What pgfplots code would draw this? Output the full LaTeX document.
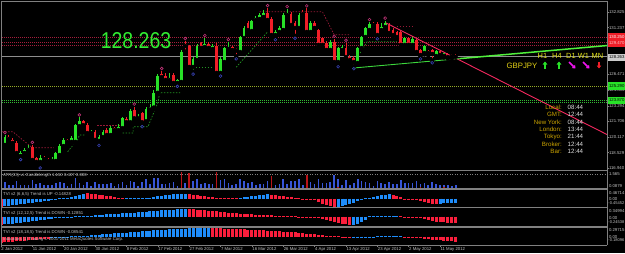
\documentclass[border=0pt]{standalone}
\usepackage{pgfplots}
\pgfplotsset{compat=1.18}
\usepackage{pgfplotstable}
\usetikzlibrary{arrows.meta}
\usepackage{fontspec}
\setmainfont{Liberation Sans}
\definecolor{cup}{RGB}{40,225,40}
\definecolor{cdn}{RGB}{240,30,40}
\definecolor{tvib}{RGB}{30,140,250}
\definecolor{tvir}{RGB}{250,30,60}
\definecolor{atrb}{RGB}{55,85,215}
\definecolor{atrr}{RGB}{185,20,25}
\definecolor{sep}{RGB}{128,128,128}
\definecolor{lbl}{RGB}{195,195,195}
\definecolor{frup}{RGB}{185,50,115}
\definecolor{frdn}{RGB}{55,65,180}
\definecolor{rdot}{RGB}{165,30,60}
\definecolor{gdot}{RGB}{50,185,50}
\definecolor{ydot}{RGB}{150,170,40}
\definecolor{rdash}{RGB}{150,25,55}
\definecolor{gdash}{RGB}{35,150,35}
\definecolor{gold}{RGB}{205,165,0}
\definecolor{yel}{RGB}{225,225,25}
\definecolor{lime}{RGB}{50,235,50}
\definecolor{tline}{RGB}{245,40,95}
\definecolor{gline}{RGB}{60,215,60}
\definecolor{gline2}{RGB}{80,240,60}
\definecolor{mag}{RGB}{240,20,240}

\pgfplotstableread{
x o h l c
0 120.0 120.5 119.8 120.3
1 119.29 120.3 119.1 120.1
5 118.17 118.7 118.05 118.47
6 118.47 119.0 118.3 118.78
7 118.78 119.3 118.6 119.0
10 117.56 118.3 117.2 117.96
13 117.66 118.1 117.5 117.86
14 117.66 118.6 117.5 118.47
15 118.27 119.4 118.1 119.18
16 119.18 120.0 119.0 119.8
18 119.6 120.2 119.4 120.0
19 119.6 121.4 119.4 121.3
20 121.2 122.1 121.0 121.7
23 120.5 120.8 120.3 120.6
25 119.7 120.3 119.5 120.1
26 120.1 120.8 119.9 120.6
28 120.3 121.2 120.1 121.0
30 120.8 121.4 120.6 121.1
31 121.0 122.1 120.9 122.0
33 121.6 122.9 121.5 122.7
35 122.0 122.4 121.9 122.1
37 121.7 123.2 121.5 123.0
38 122.9 123.5 122.7 123.2
39 123.1 124.9 122.9 124.6
40 124.6 126.5 124.5 126.3
43 125.9 126.62 125.6 126.11
45 125.6 126.05 125.5 125.9
46 125.7 128.96 125.55 128.75
49 127.23 128.24 126.75 128.04
50 127.94 129.57 127.8 129.36
52 129.26 130.18 129.1 129.57
54 129.06 129.57 128.8 129.36
56 126.62 128.2 126.55 128.04
57 127.73 129.3 127.6 129.16
58 129.06 129.77 128.8 129.2
61 128.75 130.4 128.6 130.28
62 130.18 131.4 130.0 131.2
64 130.89 132.0 130.7 131.91
65 132.01 132.4 131.8 132.21
66 132.11 132.7 131.9 132.52
67 132.32 133.0 132.1 132.72
70 130.48 131.0 130.25 130.79
71 130.79 131.4 130.6 131.2
72 130.99 132.7 130.9 132.52
73 132.52 133.13 132.3 132.72
76 131.2 132.7 131.0 132.52
79 130.79 131.9 130.6 131.71
84 128.96 130.0 128.8 129.77
86 127.73 129.3 127.5 129.16
87 128.96 129.5 128.8 129.26
91 127.63 129.3 127.5 129.16
92 129.16 130.4 129.0 130.28
93 130.28 131.3 130.1 131.2
94 130.99 131.8 130.8 131.6
97 130.99 131.7 130.7 131.3
98 131.3 131.95 131.1 131.7
103 129.47 130.3 129.3 130.18
105 129.47 130.4 129.3 130.1
108 128.65 129.5 128.5 129.36
111 128.35 129.0 128.2 128.86
113 128.35 128.8 128.2 128.65
}\up

\pgfplotstableread{
x o h l c
2 120.1 120.3 119.7 119.9
3 119.8 120.0 119.3 119.5
4 119.5 119.7 118.3 118.47
8 119.08 119.3 117.65 117.76
9 117.96 118.1 117.3 117.56
11 117.96 118.2 117.6 117.86
12 117.86 118.0 117.3 117.66
17 119.8 119.9 119.4 119.6
21 121.7 121.8 121.1 121.3
22 121.3 121.5 120.3 120.5
24 120.6 120.8 119.6 119.8
27 120.8 121.0 120.1 120.3
29 121.0 121.1 120.6 120.8
32 121.9 122.1 121.4 121.6
34 122.8 123.2 121.9 122.0
36 122.5 122.6 121.4 121.6
41 126.5 126.82 126.0 126.2
42 126.3 126.6 125.75 125.9
44 126.41 126.62 125.45 125.6
47 129.57 129.87 128.8 129.36
48 129.36 129.47 127.12 127.23
51 129.67 129.77 129.0 129.16
53 129.57 129.77 128.9 129.16
55 129.36 129.67 126.5 126.62
59 129.26 129.4 128.7 128.96
60 129.0 129.2 128.3 128.9
63 131.71 131.9 130.8 130.99
68 132.72 133.23 131.9 132.01
69 132.11 132.3 130.3 130.48
74 132.62 132.8 131.3 131.5
75 131.71 131.9 130.4 131.2
77 132.83 133.0 132.4 132.62
78 132.72 133.2 130.6 130.79
80 131.71 131.9 131.0 131.2
81 130.99 131.1 129.3 129.47
82 130.18 130.3 129.2 129.47
83 129.67 129.9 128.8 128.96
85 129.77 130.1 127.6 127.73
88 129.16 129.7 128.1 128.24
89 128.24 128.4 127.8 127.94
90 128.1 128.3 127.3 127.73
95 131.6 131.8 131.3 131.5
96 131.6 131.8 130.35 130.48
99 131.5 131.7 130.5 130.69
100 130.99 131.2 130.3 130.48
101 130.79 130.9 130.1 130.28
102 130.79 130.9 129.3 129.47
104 130.18 130.3 129.2 129.47
106 130.0 130.1 128.6 128.75
107 128.96 129.1 128.3 128.45
109 128.86 129.0 128.4 128.65
110 129.0 129.1 127.9 128.55
112 128.86 129.0 128.3 128.45
114 128.55 128.7 128.1 128.24
115 128.45 128.6 128.1 128.3
116 128.35 128.5 127.8 128.263
}\dn

\pgfplotsset{
  panel/.style={scale only axis, width=605bp, xmin=0.255, xmax=154.59,
    axis line style={draw=none}, ticks=none, clip=true},
  wick/.style={forget plot, only marks, mark=none, error bars/.cd, y dir=plus, y explicit,
    error mark=none, error bar style={draw=#1, line width=0.8bp}},
  body/.style={forget plot, only marks, mark=none, error bars/.cd, y dir=plus, y explicit,
    error mark=none, error bar style={draw=#1, line width=2.8bp}},
}
\newcommand{\lblf}{\fontsize{4.3}{5}\selectfont}
\newcommand{\lblg}{\fontsize{4.05}{5}\selectfont}

\begin{document}
\begin{tikzpicture}[x=1bp,y=1bp]
\fill[black] (0,0) rectangle (625,253);

% ---------------- main price panel ----------------
\begin{axis}[panel, at={(2bp,83bp)}, anchor=south west, height=168bp,
  ymin=116.741, ymax=133.843]
\addplot[rdot, line width=0.7bp, dash pattern=on 1bp off 1bp] coordinates {(0.255,130.25) (154.59,130.25)};
\addplot[rdot, line width=0.7bp, dash pattern=on 1bp off 1bp] coordinates {(0.255,129.72) (154.59,129.72)};
\addplot[rdot, line width=0.7bp, dash pattern=on 1bp off 1bp] coordinates {(0.255,129.47) (154.59,129.47)};
\addplot[color=sep!90!white, line width=0.8bp] coordinates {(0.255,128.263) (154.59,128.263)};
\addplot[ydot, line width=0.8bp, dash pattern=on 1bp off 1bp] coordinates {(0.255,125.29) (154.59,125.29)};
\addplot[gdot, line width=0.8bp, dash pattern=on 1bp off 1bp] coordinates {(0.255,123.87) (154.59,123.87)};
\addplot[gdot, line width=0.8bp, dash pattern=on 1bp off 1bp] coordinates {(0.255,123.58) (154.59,123.58)};
\addplot[rdash, line width=0.7bp, dash pattern=on 1.5bp off 1.5bp] coordinates {(0.3,120.64) (3,120.64) (8,119.0) (13.5,119.0)};
\addplot[rdash, line width=0.7bp, dash pattern=on 1.5bp off 1.5bp] coordinates {(24.5,121.3) (31,121.3)};
\addplot[rdash, line width=0.7bp, dash pattern=on 1.5bp off 1.5bp] coordinates {(66,132.85) (82,132.85) (85,130.5) (89,130.5)};
\addplot[rdash, line width=0.7bp, dash pattern=on 1.5bp off 1.5bp] coordinates {(101,131.4) (105,131.4)};
\addplot[gdash, line width=0.7bp, dash pattern=on 1.5bp off 1.5bp] coordinates {(17,118.6) (19.5,119.8) (20,120.3) (22,120.3)};
\addplot[gdash, line width=0.7bp, dash pattern=on 1.5bp off 1.5bp] coordinates {(31,120.5) (33.7,120.5) (33.7,121.15) (37.5,121.15) (40,123.6) (40.5,124.6) (45.7,124.6)};
\addplot[gdash, line width=0.7bp, dash pattern=on 1.5bp off 1.5bp] coordinates {(47.4,127.23) (54,127.23)};
\addplot[gdash, line width=0.7bp, dash pattern=on 1.5bp off 1.5bp] coordinates {(60,127.2) (68,130.8)};
\addplot[gdash, line width=0.7bp, dash pattern=on 1.5bp off 1.5bp] coordinates {(91.6,128.65) (93.4,129.8) (101,129.8)};
\addplot[wick=cup] table[x=x, y=l, y error expr=\thisrow{h}-\thisrow{l}] {\up};
\addplot[wick=cdn] table[x=x, y=l, y error expr=\thisrow{h}-\thisrow{l}] {\dn};
\addplot[body=cup] table[x=x, y=o, y error expr=\thisrow{c}-\thisrow{o}] {\up};
\addplot[body=cdn] table[x=x, y=c, y error expr=\thisrow{o}-\thisrow{c}] {\dn};
\addplot[only marks, mark=o, mark size=1.4bp, draw=frup, line width=0.6bp] coordinates {
(1,120.55) (8,119.55) (20,122.35) (34,123.45) (41,127.07) (47,130.12) (52,130.43) (58,130.02)
(68,133.48) (73,133.38) (78,133.45) (85,130.35) (88,129.95) (94,132.05) (98,132.2)};
\addplot[only marks, mark=o, mark size=1.4bp, draw=frdn, line width=0.6bp] coordinates {
(5,117.8) (10,116.95) (25,119.25) (36,121.15) (45,125.25) (49,126.5) (56,126.3) (60,128.05)
(70,130.0) (75,130.15) (86,127.25) (90,127.05) (96,130.1) (107,128.05) (110,127.65)};
\addplot[tline, line width=0.9bp] coordinates {(98.2,131.71) (154.6,120.35)};
\addplot[gline, line width=0.9bp] coordinates {(89.8,127.12) (117,128.08)};
\addplot[gline2, line width=1.5bp] coordinates {(117,128.08) (154.6,129.41)};
\end{axis}

% ---------------- ATR panel ----------------
\begin{axis}[panel, at={(2bp,64.5bp)}, anchor=south west, height=16.5bp, ymin=0, ymax=3.1]
\addplot[sep, line width=0.5bp, dash pattern=on 1bp off 1.5bp] coordinates {(0.255,2.63) (154.59,2.63)};
\addplot[ycomb, draw=atrb, line width=1.6bp, mark=none] table[x=x, y expr=\thisrow{h}-\thisrow{l}] {\up};
\addplot[ycomb, draw=atrb, line width=1.6bp, mark=none] table[x=x, y expr=\thisrow{h}-\thisrow{l}] {\dn};
\addplot[ycomb, draw=atrr, line width=1.6bp, mark=none] coordinates {(46,3.41) (48,2.9) (55,3.17) (69,2.4) (78,2.6)};
\addplot[ycomb, draw=atrr, line width=1.6bp, mark=none] coordinates {(0,0.4) (86,0.3) (107,0.3) (113,0.25)};
\end{axis}

% ---------------- TVI 1 ----------------
\begin{axis}[panel, at={(2bp,46bp)}, anchor=south west, height=17bp, ymin=-8.5, ymax=8.5]
\addplot[ycomb, draw=tvib, line width=3bp, mark=none] coordinates {
(1,-7.5)(2,-7)(3,-6.5)(4,-6)(5,-5.5)(6,-5)(7,-4.6)(8,-4)(9,-3.5)(10,-3)(11,-2.5)(12,-2)(13,-1.2)(14,-0.6)
(15,0.5)(16,0.5)(17,0.7)(18,1.5)(19,2.5)(20,3.5)(21,4.5)(32,0.5)(33,0.5)(34,0.6)(35,0.6)(36,0.7)(37,0.8)
(38,1)(39,1.5)(40,2.5)(41,3)(42,3.5)(43,4)(44,4.3)(45,4.5)(46,4.6)(47,4.8)(61,0.6)(62,1.2)(63,2)(64,2.5)
(65,3)(66,3.5)(67,4)(68,4.2)(86,-8)(87,-7.5)(88,-6.5)(89,-5.5)(90,-4)(91,-2.5)(92,-1.2)(93,0.5)(94,0.8)
(95,1.5)(96,2.5)(97,3.5)(98,4)(99,4.5)(112,-5)(113,-4.6)(114,-4.4)(115,-4.4)(116,-4.3)};
\addplot[ycomb, draw=tvir, line width=3bp, mark=none] coordinates {
(0,-8)(22,5.5)(23,5)(24,4.5)(25,4)(26,3.5)(27,3)(28,2.3)(29,1.5)(30,0.8)(31,0.5)(48,4.5)(49,4)(50,3.5)
(51,3)(52,2.5)(53,2)(54,1.5)(55,1)(56,0.8)(57,0.6)(58,0.5)(59,0.5)(60,0.5)(69,4)(70,3.5)(71,3)(72,2.5)
(73,2)(74,1.3)(75,0.8)(76,0.5)(77,-0.5)(78,-0.7)(79,-1)(80,-1.5)(81,-3)(82,-5)(83,-6.5)(84,-7.5)(85,-8)
(100,3.5)(101,2.5)(102,1.5)(103,-0.5)(104,-0.6)(105,-0.8)(106,-1)(107,-2)(108,-3)(109,-4)(110,-5)(111,-5.5)};
\end{axis}

% ---------------- TVI 2 ----------------
\begin{axis}[panel, at={(2bp,27bp)}, anchor=south west, height=17.5bp, ymin=-9.3, ymax=8.2]
\addplot[ycomb, draw=tvib, line width=3bp, mark=none] coordinates {
(1,-7.5)(2,-7.2)(3,-6.9)(4,-6.5)(5,-6)(6,-5.5)(7,-5)(8,-4.5)(9,-4)(10,-3.5)(11,-3)(12,-2.5)(13,-2)(14,-1.6)
(15,-1.2)(16,-0.8)(17,-0.6)(18,-0.5)(19,0.5)(20,0.5)(21,0.7)(22,1)(23,1.2)(24,1.5)(25,1.8)(26,2)(27,2.3)
(28,2.6)(29,3)(30,3.2)(31,3.5)(32,3.8)(33,4)(34,4.2)(35,4.5)(36,4.8)(37,5)(38,5.3)(39,5.6)(40,6)(41,6.3)
(42,6.6)(43,6.9)(44,7.2)(45,7.5)(46,7.6)(47,7.7)(90,-8)(91,-7)(92,-5.5)(93,-3.5)(94,0.5)(95,0.6)(96,0.8)
(97,1)(98,1)(99,0.8)(100,0.6)(101,0.5)};
\addplot[ycomb, draw=tvir, line width=3bp, mark=none] coordinates {
(0,-8)(48,7.7)(49,7.5)(50,7.2)(51,6.9)(52,6.5)(53,6.2)(54,5.8)(55,5.4)(56,5)(57,4.6)(58,4.2)(59,3.8)(60,3.4)
(61,3.1)(62,2.8)(63,2.5)(64,2.3)(65,2.1)(66,1.9)(67,1.7)(68,1.5)(69,1.3)(70,1.1)(71,0.9)(72,0.8)(73,0.6)
(74,0.5)(75,0.5)(76,-0.5)(77,-0.5)(78,-0.6)(79,-0.8)(80,-1)(81,-1.5)(82,-2.2)(83,-3)(84,-4)(85,-5)(86,-6)
(87,-7)(88,-7.5)(89,-8)(102,0.5)(103,-0.5)(104,-0.5)(105,-0.6)(106,-0.8)(107,-1.5)(108,-2.5)(109,-3.5)
(110,-4.2)(111,-4.8)(112,-5.3)(113,-5.7)(114,-6)(115,-6.2)(116,-6.3)};
\end{axis}

% ---------------- TVI 3 ----------------
\begin{axis}[panel, at={(2bp,8.5bp)}, anchor=south west, height=16.5bp, ymin=-7.8, ymax=8.7]
\addplot[ycomb, draw=tvib, line width=3bp, mark=none] coordinates {
(13,-1.5)(14,-1.2)(15,-1)(16,-0.7)(17,-0.5)(18,0.5)(19,0.5)(20,0.6)(21,0.9)(22,1.2)(23,1.5)(24,1.8)(25,2.1)
(26,2.4)(27,2.7)(28,3)(29,3.3)(30,3.6)(31,3.9)(32,4.2)(33,4.5)(34,4.8)(35,5.1)(36,5.4)(37,5.7)(38,6)(39,6.3)
(40,6.6)(41,6.9)(42,7.2)(43,7.5)(44,7.7)(45,7.9)(46,8.1)(47,8.2)(48,8.3)(49,8.4)(50,8.5)(51,8.5)(52,8.5)
(53,8.5)(90,-1.2)(91,-1.4)(92,-1.4)(93,-1.2)(94,-1)(95,-0.6)(96,0.5)(97,0.5)(98,0.5)(99,0.5)(100,0.5)
(101,0.5)(102,0.5)};
\addplot[ycomb, draw=tvir, line width=3bp, mark=none] coordinates {
(0,-6)(1,-5.5)(2,-5)(3,-4.8)(4,-4.5)(5,-4.2)(6,-4)(7,-3.7)(8,-3.4)(9,-3)(10,-2.6)(11,-2.2)(12,-1.8)
(54,8.5)(55,8.4)(56,8.3)(57,8.2)(58,8.1)(59,8)(60,7.8)(61,7.6)(62,7.4)(63,7.2)(64,7)(65,6.8)(66,6.6)(67,6.4)
(68,6.2)(69,6)(70,5.8)(71,5.5)(72,5.2)(73,4.9)(74,4.6)(75,4.3)(76,4)(77,3.6)(78,3.2)(79,2.8)(80,2.4)(81,2)
(82,1.5)(83,1)(84,0.7)(85,0.5)(86,0.5)(87,-0.5)(88,-0.7)(89,-1)(103,-0.5)(104,-0.5)(105,-0.7)(106,-0.9)
(107,-1.3)(108,-1.8)(109,-2.3)(110,-2.8)(111,-3.2)(112,-3.6)(113,-4)(114,-4.3)(115,-4.6)(116,-4.8)};
\end{axis}

% ---------------- frames ----------------
\draw[sep, line width=0.8bp] (1,252) -- (607,252);
\draw[sep, line width=0.8bp] (1,252) -- (1,8);
\draw[sep, line width=0.8bp] (607,252) -- (607,8);
\foreach \yy in {82.5,64,45.5,26}{\draw[sep, line width=1.6bp] (1,\yy) -- (607,\yy);}
\draw[sep, line width=0.8bp] (1,8) -- (607,8);

\foreach \yy/\tx in {241/132.825,225.4/131.237,178.6/126.471,163/124.883,147.2/123.294,131.5/121.706,115.9/120.117,100.3/118.529,84.7/116.940}{
  \draw[sep, line width=0.5bp] (607,\yy) -- (608.5,\yy);
  \node[anchor=west, inner sep=0pt, text=lbl, font=\lblf] at (608.8,\yy) {\tx};}
\fill[cdn] (608,206) rectangle (625,220);
\node[anchor=west, inner sep=0pt, text=white, font=\lblf] at (608.8,216) {130.250};
\node[anchor=west, inner sep=0pt, text=white!80!red, font=\lblf] at (608.8,210) {129.470};
\fill[lbl!85!white] (608,192.5) rectangle (625,199.5);
\node[anchor=west, inner sep=0pt, text=black, font=\lblf] at (608.8,196) {128.263};
\fill[cup] (608,163) rectangle (625,171);
\node[anchor=west, inner sep=0pt, text=black, font=\lblf] at (608.8,167) {125.290};
\fill[cup] (608,149) rectangle (625,156.5);
\node[anchor=west, inner sep=0pt, text=black, font=\lblf] at (608.8,152.7) {123.870};

\foreach \yy/\tx in {78.5/1.565,66.5/0.0879,59.5/0.46714,53.7/0.00,41.5/0.34994,35/0.00,22.5/0.29715,15.8/0.00}{
  \node[anchor=west, inner sep=0pt, text=lbl, font=\lblf] at (608.8,\yy) {\tx};}
\foreach \yy/\tx in {49.7/-0.45452,31/-0.24538,12.5/-0.18096}{
  \node[anchor=west, inner sep=0pt, text=lbl, font=\lblg] at (608.2,\yy) {\tx};}

\node[anchor=west, inner sep=0pt, text=lbl, font=\lblf] at (3,77.5) {ATR(33) vs Candlelength 1.150 0.407 0.000};
\node[anchor=west, inner sep=0pt, text=lbl, font=\lblf] at (3,58.5) {TVI v2 (6,6,5) Trend is UP -0.14828};
\node[anchor=west, inner sep=0pt, text=lbl, font=\lblf] at (3,39.2) {TVI v2 (12,12,5) Trend is DOWN -0.12851};
\node[anchor=west, inner sep=0pt, text=lbl, font=\lblf] at (3,20.7) {TVI v2 (18,18,5) Trend is DOWN -0.08541};
\node[anchor=west, inner sep=0pt, text=lbl, font=\lblf] at (3,13.7) {Indicators [1] Trading \textcopyright\ 2001-2011 MetaQuotes Software Corp.};

\foreach \xx/\tx in {1/2 Jan 2012,32.4/11 Jan 2012,63.7/20 Jan 2012,95.1/30 Jan 2012,126.4/8 Feb 2012,157.8/17 Feb 2012,189.2/27 Feb 2012,220.5/7 Mar 2012,251.9/16 Mar 2012,283.3/26 Mar 2012,314.6/4 Apr 2012,346/13 Apr 2012,377.4/23 Apr 2012,408.7/2 May 2012,440.1/11 May 2012}{
  \draw[sep, line width=0.5bp] (\xx,8) -- (\xx,6);
  \node[anchor=west, inner sep=0pt, text=lbl, font=\fontsize{4.3}{5}\selectfont] at (\xx+0.3,3.8) {\tx};}

\node[text=lime, font=\fontsize{23}{23}\selectfont, xscale=0.85] at (136,212.5) {128.263};

\foreach \xx/\tx in {542.5/H1,557/H4,571/D1,583.5/W1,597.5/MN}{
  \node[text=yel, font=\fontsize{7.5}{8}\selectfont, inner sep=0pt] at (\xx,197.5) {\tx};}
\node[text=yel!85!orange, font=\fontsize{7.8}{8}\selectfont, inner sep=0pt] at (522,187.5) {GBPJPY};
\draw[cup, line width=1.6bp, -{Triangle[width=4.5bp,length=3bp]}] (545,184.5) -- (545,191.5);
\draw[cup, line width=1.6bp, -{Triangle[width=4.5bp,length=3bp]}] (559,184.5) -- (559,191.5);
\draw[mag, line width=1.6bp, -{Triangle[width=4.5bp,length=3bp]}] (569,191) -- (575.5,184.5);
\draw[mag, line width=1.6bp, -{Triangle[width=4.5bp,length=3bp]}] (583,191) -- (589.5,184.5);
\draw[cdn, line width=1.6bp, -{Triangle[width=4.5bp,length=3bp]}] (599,191.5) -- (599,184.5);

\foreach \yy/\la/\va in {145.7/Local/08:44,138.2/GMT/12:44,130.8/New York/08:44,123.4/London/13:44,116.2/Tokyo/21:44,109/Broker/12:44,101.7/Bar/12:44}{
  \node[anchor=east, inner sep=0pt, text=gold, font=\fontsize{6.2}{7}\selectfont] at (562,\yy) {\la:};
  \node[anchor=west, inner sep=0pt, text=white!88!black, font=\fontsize{6.2}{7}\selectfont] at (567.5,\yy) {\va};}

\pgfresetboundingbox
\path[use as bounding box] (0,0) rectangle (625,253);
\end{tikzpicture}
\end{document}
